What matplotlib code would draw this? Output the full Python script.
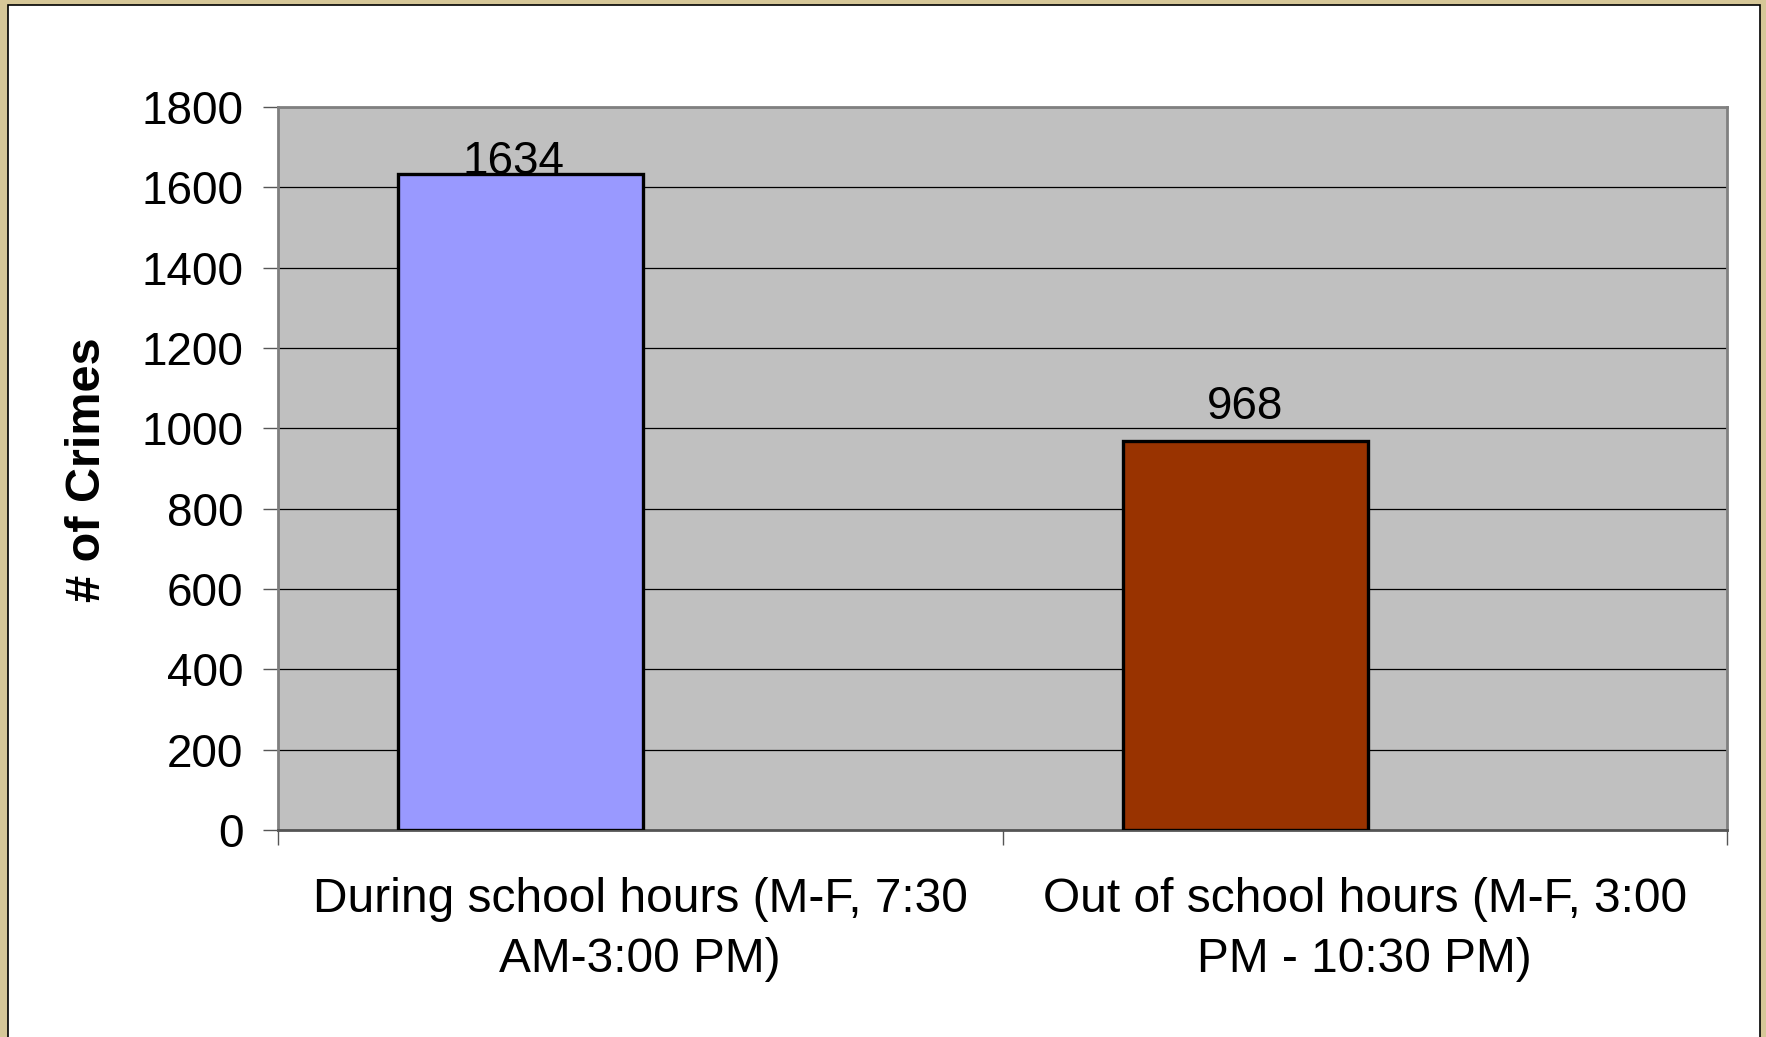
import numpy as np
import matplotlib
matplotlib.use("Agg")
import matplotlib.pyplot as plt
from matplotlib.patches import Rectangle

categories = ['During school hours (M-F, 7:30\nAM-3:00 PM)',
              'Out of school hours (M-F, 3:00\nPM - 10:30 PM)']
crimes = [1634, 968]
bar_colors = ['#9999FF', '#993300']
yticks = np.arange(0, 1801, 200)

plt.rcParams['font.family'] = ['Liberation Sans', 'DejaVu Sans']
plt.rcParams['font.size'] = 33

W, H = 1766, 1037
fig = plt.figure(figsize=(W / 100, H / 100), dpi=100)
fig.patch.set_facecolor('#D6C798')
# white inner panel with thin black edge (runs off the bottom)
fig.add_artist(Rectangle((8 / W, -0.02), (1760 - 8) / W, 1.02 - 5 / H,
                         transform=fig.transFigure, facecolor='white',
                         edgecolor='black', linewidth=1.2, zorder=0))

ax = fig.add_axes([278 / W, 1 - 830 / H, (1727 - 278) / W, (830 - 107) / H])
ax.set_facecolor('#C0C0C0')

x = np.arange(len(crimes))
bw = 0.338
off = -0.165
bars = ax.bar(x + off, crimes, width=bw, color=bar_colors,
              edgecolor='black', linewidth=2.4, zorder=3)

pads = [(-5, 0), (0, 16)]
for b, v, p in zip(bars, crimes, pads):
    ax.annotate(str(v), (b.get_x() + b.get_width() / 2, v),
                xytext=p, textcoords='offset points',
                ha='center', va='baseline', fontsize=33, zorder=4)

ax.set_xlim(-0.5, 1.5)
ax.set_ylim(0, 1800)
ax.set_yticks(yticks)
ax.yaxis.grid(True, color='black', linewidth=0.9, zorder=1)
ax.set_axisbelow(True)

# category boundaries as ticks, labels at centers
ax.set_xticks([-0.5, 0.5, 1.5])
ax.set_xticklabels(['', '', ''])
ax.set_xticks(x, minor=True)
ax.set_xticklabels(categories, minor=True, linespacing=1.42, fontsize=34.5)
ax.tick_params(axis='x', which='minor', length=0, pad=34)
ax.tick_params(axis='x', which='major', length=11, width=1, color='#555555',
               direction='out')
ax.tick_params(axis='y', length=11, width=1, color='#555555', pad=14)

for s in ['top', 'right', 'left']:
    ax.spines[s].set_color('#808080')
    ax.spines[s].set_linewidth(2)
ax.spines['bottom'].set_color('#555555')
ax.spines['bottom'].set_linewidth(2)

fig.text(87 / W, 1 - 470 / H, '# of Crimes', rotation=90, ha='center',
         va='center', fontsize=35, fontweight='bold')

fig.savefig('out.png', dpi=100, facecolor=fig.get_facecolor())
